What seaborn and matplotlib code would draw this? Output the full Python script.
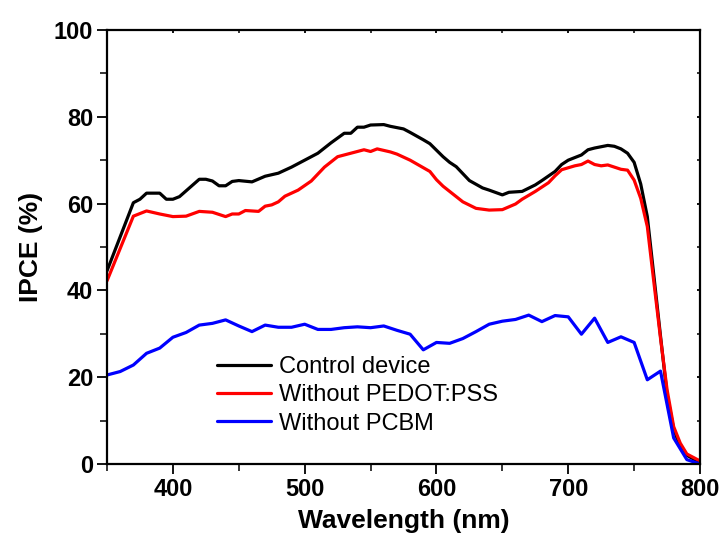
import matplotlib
matplotlib.use("Agg")
import matplotlib.pyplot as plt
import numpy as np
import pandas as pd
import seaborn as sns
from matplotlib.ticker import MultipleLocator

# ── Data ──────────────────────────────────────────────────────────────────────
control_nm = [350, 370, 375, 380, 390, 395, 400, 405, 420, 425, 430, 435, 440, 445,
              450, 460, 470, 480, 490, 500, 510, 520, 530, 535, 540, 545, 550, 560,
              565, 575, 580, 590, 595, 605, 610, 615, 625, 635, 640, 650, 655, 665,
              675, 680, 690, 695, 700, 710, 715, 720, 730, 735, 740, 745, 750, 755,
              760, 765, 770, 775, 780, 785, 790, 800]
control_ipce = [44.5, 60.2, 61.0, 62.4, 62.4, 61.0, 61.0, 61.6, 65.6, 65.6, 65.2, 64.1,
                64.1, 65.1, 65.3, 65.0, 66.3, 67.0, 68.4, 70.0, 71.6, 74.0, 76.2, 76.2,
                77.6, 77.6, 78.1, 78.2, 77.8, 77.2, 76.4, 74.7, 73.8, 70.8, 69.5, 68.5,
                65.3, 63.6, 63.1, 62.0, 62.6, 62.8, 64.3, 65.3, 67.4, 69.0, 70.0, 71.2,
                72.4, 72.8, 73.4, 73.2, 72.6, 71.6, 69.5, 64.5, 57.0, 43.3, 29.5, 16.0,
                8.0, 4.0, 2.0, 0.3]

no_pedot_nm = [350, 370, 380, 390, 400, 410, 420, 430, 440, 445, 450, 455, 465, 470,
               475, 480, 485, 495, 505, 515, 525, 535, 545, 550, 555, 565, 570, 580,
               595, 600, 605, 615, 620, 630, 640, 650, 660, 665, 675, 685, 690, 695,
               705, 710, 715, 720, 725, 730, 740, 745, 750, 755, 760, 765, 770, 775,
               780, 785, 790, 800]
no_pedot_ipce = [42.2, 57.1, 58.3, 57.6, 57.0, 57.1, 58.2, 58.0, 57.0, 57.6, 57.6, 58.4,
                 58.2, 59.4, 59.7, 60.4, 61.7, 63.1, 65.2, 68.4, 70.8, 71.6, 72.4, 72.0,
                 72.6, 71.9, 71.4, 70.0, 67.4, 65.5, 64.0, 61.6, 60.4, 58.9, 58.5, 58.6,
                 59.9, 61.0, 62.8, 64.8, 66.4, 67.8, 68.7, 69.0, 69.8, 69.0, 68.7, 68.9,
                 67.9, 67.7, 65.4, 61.2, 54.7, 41.8, 29.0, 17.1, 8.6, 4.8, 2.3, 0.7]

no_pcbm_nm = [350, 360, 370, 380, 390, 400, 410, 420, 430, 440, 450, 460, 470, 480,
              490, 500, 510, 520, 530, 540, 550, 560, 570, 580, 590, 600, 610, 620,
              630, 640, 650, 660, 670, 680, 690, 700, 710, 720, 730, 740, 750, 760,
              770, 780, 790, 800]
no_pcbm_ipce = [20.5, 21.3, 22.8, 25.5, 26.7, 29.2, 30.3, 32.0, 32.4, 33.2, 31.8, 30.5,
                32.0, 31.5, 31.5, 32.2, 31.0, 31.0, 31.4, 31.6, 31.4, 31.8, 30.8, 29.9,
                26.3, 28.0, 27.8, 28.9, 30.5, 32.2, 32.9, 33.3, 34.3, 32.8, 34.2, 33.9,
                29.9, 33.6, 28.0, 29.3, 28.0, 19.4, 21.4, 6.0, 1.0, 0.0]

labels = ["Control device", "Without PEDOT:PSS", "Without PCBM"]
colors = ["#000000", "#ff0000", "#0000ff"]

df = pd.concat([
    pd.DataFrame({"wavelength": control_nm, "ipce": control_ipce, "device": labels[0]}),
    pd.DataFrame({"wavelength": no_pedot_nm, "ipce": no_pedot_ipce, "device": labels[1]}),
    pd.DataFrame({"wavelength": no_pcbm_nm, "ipce": no_pcbm_ipce, "device": labels[2]}),
], ignore_index=True)

# ── Style ─────────────────────────────────────────────────────────────────────
sns.set_theme(style="ticks")
plt.rcParams["font.family"] = ["Liberation Sans", "DejaVu Sans"]
plt.rcParams.update({
    "text.color": "black",
    "axes.labelcolor": "black",
    "xtick.color": "black",
    "ytick.color": "black",
    "axes.edgecolor": "black",
})

fig = plt.figure(figsize=(7.27, 5.54), dpi=100)
ax = fig.add_axes([0.1472, 0.1625, 0.8157, 0.7834])

sns.lineplot(data=df, x="wavelength", y="ipce", hue="device", hue_order=labels,
             palette=dict(zip(labels, colors)), linewidth=2.3, sort=False,
             estimator=None, ax=ax)

ax.set_xlim(350, 800)
ax.set_ylim(0, 100)
ax.xaxis.set_major_locator(MultipleLocator(100))
ax.xaxis.set_minor_locator(MultipleLocator(50))
ax.yaxis.set_major_locator(MultipleLocator(20))
ax.yaxis.set_minor_locator(MultipleLocator(10))

for side in ["left", "right", "top", "bottom"]:
    ax.spines[side].set_visible(True)
    ax.spines[side].set_linewidth(1.6)
    ax.spines[side].set_color("black")

ax.tick_params(axis="both", which="major", direction="out", length=7, width=1.3,
               labelsize=17, labelcolor="black", color="black", pad=3)
ax.tick_params(axis="both", which="minor", direction="out", length=5, width=1.1,
               color="black")
ax.tick_params(axis="both", which="both", top=True, right=True)
# small inward marks on the top and right frame
for tick in ax.xaxis.get_major_ticks() + ax.xaxis.get_minor_ticks():
    tick.tick2line.set_markersize(2)
    tick.tick2line.set_marker(3)
for tick in ax.yaxis.get_major_ticks() + ax.yaxis.get_minor_ticks():
    tick.tick2line.set_markersize(2)
    tick.tick2line.set_marker(0)
for lbl in ax.get_xticklabels() + ax.get_yticklabels():
    lbl.set_fontweight("bold")

ax.set_xlabel("Wavelength (nm)", fontsize=19, fontweight="bold", labelpad=6)
ax.set_ylabel("IPCE (%)", fontsize=19, fontweight="bold", labelpad=8)

handles, _ = ax.get_legend_handles_labels()
ax.legend(handles=handles, labels=labels, loc="upper left",
          bbox_to_anchor=(0.1855, 0.248), frameon=False, fontsize=17,
          handlelength=2.3, handletextpad=0.33, labelspacing=0.26,
          borderpad=0, borderaxespad=0)

plt.savefig("out.png", dpi=100)
